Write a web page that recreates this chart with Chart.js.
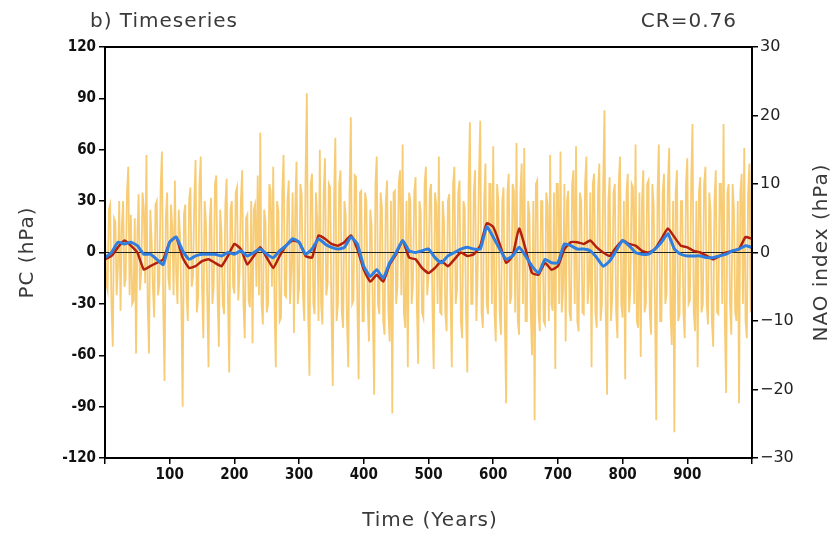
<!DOCTYPE html>
<html>
<head>
<meta charset="utf-8">
<script src="https://cdn.jsdelivr.net/npm/chart.js@4.4.0/dist/chart.umd.min.js"></script>
<style>
  html, body { margin: 0; padding: 0; background: #fff; }
  #wrap { width: 837px; height: 537px; }
</style>
</head>
<body>
<div id="wrap"><canvas id="chart" width="837" height="537"></canvas></div>
<script>
// yearly PC values, read every 2 years (hPa)
const rawStep = 2;
const rawPC = [
  12, -18, -22, 25, 28, -30, -55, 20, 18, -25, -8, 30, -34, 15, 30, -20, -15, 35, 50, -25,
  22, -30, -28, 20, -59, 10, 34, -22, -12, 35, 26, -18, 57, -30, -59, 25, 8, -20, -38, 28,
  30, -25, -18, 38, 59, -30, -75, 20, 35, -15, -22, 28, 14, -25, 42, -12, -30, 25, 10, -30,
  -90, 22, 28, -25, -40, 30, 38, -20, -14, 30, 54, -35, -26, 40, 56, -20, -50, 30, 18, -25,
  -67, 20, 32, -30, -20, 40, 45, -25, -55, 25, 12, -30, -36, 28, 43, -25, -70, 25, 30, -20,
  -24, 35, 38, -28, -12, 30, 48, -30, -50, 20, 22, -28, -32, 30, -53, 25, 28, -20, 45, -25,
  70, -30, -42, 25, 18, -35, -30, 40, 36, -20, 50, -30, -67, 30, 24, -40, -38, 35, 57, -25,
  -26, 30, 42, -30, -10, 35, -47, 25, 53, -30, -20, 40, 34, -25, -40, 45, 93, -35, -72, 40,
  46, -30, -36, 35, 20, -40, 60, -30, -42, 35, 55, -25, -18, 40, 38, -35, -78, 30, 67, -40,
  -30, 40, 48, -35, -44, 30, 22, -40, -67, 35, 79, -30, -28, 45, 44, -30, -74, 35, 36, -40,
  -40, 35, 30, -30, -52, 25, 16, -35, -83, 40, 56, -30, -36, 35, 26, -40, -48, 30, 42, -35,
  -52, 30, -94, 35, 36, -30, -20, 40, 48, -25, 63, -35, -44, 30, -67, 35, 30, -30, -18, 35,
  44, -30, -65, 30, 24, -35, -38, 40, 50, -25, -14, 35, 40, -30, -68, 35, 28, -30, 56, -35,
  -36, 30, 18, -35, -46, 30, 34, -25, -67, 40, 50, -30, -22, 35, 42, -40, -50, 30, 26, -35,
  -70, 40, 76, -30, -30, 35, 48, -40, -12, 45, 77, -35, -44, 30, 52, -30, -36, 40, 40, -30,
  62, -35, -52, 40, 30, -35, -48, 30, 38, -40, -88, 35, 46, -30, -26, 40, 36, -35, 64, -40,
  -48, 35, 52, -30, 61, -40, -40, 30, 22, -35, -60, 30, -98, 40, 42, -35, -46, 30, 30, -40,
  -42, 35, 28, -40, 57, -30, -34, 35, -68, 40, 40, -30, 59, -35, -22, 40, -52, 30, 36, -35,
  -40, 40, 48, -30, 62, -40, -46, 35, 30, -35, -36, 40, 56, -30, -18, 35, -67, 40, 46, -35,
  -44, 35, 52, -40, -30, 40, 83, -35, -83, 30, 44, -40, -26, 35, 40, -35, -50, 40, 56, -30,
  -38, 30, -74, 35, 46, -35, -22, 40, 38, -30, 63, -40, -44, 35, -61, 30, 48, -35, -30, 40,
  42, -35, -48, 40, 28, -30, -98, 35, 63, -40, -40, 35, 46, -30, -24, 40, 61, -35, -54, 30,
  -105, 35, 48, -40, -36, 30, 30, -35, -50, 40, 55, -30, -28, 40, 75, -35, -46, 30, -67, 35,
  44, -35, -30, 40, 50, -30, -42, 35, 24, -40, -55, 30, 48, -35, -36, 40, 40, -30, 75, -40,
  -82, 35, 40, -30, -48, 40, 26, -35, -40, 30, -88, 35, 46, -30, 61, -40, -50, 35, 52, -35,
  65
];

// smoothed curves, read every 10 years
const smoothStep = 10;
const smoothPC = [
  -4, -2, 3, 7, 4, 0, -10, -8, -6, -4,
  6, 9, -3, -9, -8, -5, -4, -6, -8, -2,
  5, 2, -7, -2, 3, -3, -9, -2, 4, 7,
  6, -2, -3, 10, 8, 5, 4, 6, 10, 2,
  -10, -17, -13, -17, -7, -1, 7, -3, -4, -9,
  -12, -9, -5, -8, -4, 0, -2, -1, 4, 17,
  15, 5, -6, -2, 14, 2, -12, -13, -6, -10,
  -8, 2, 6, 6, 5, 7, 3, 0, -2, 3,
  7, 5, 4, 1, 0, 2, 8, 14, 9, 4,
  3, 1, 0, -2, -4, -2, 0, 1, 2, 9,
  8
];
// NAO index (right axis, hPa)
const smoothNAO = [
  -0.75, 0, 1.5, 1.25, 1.5, 1, -0.25, -0.25, -1, -1.75,
  1.5, 2.25, 0.25, -1, -0.5, -0.25, -0.25, -0.25, -0.5, 0,
  -0.25, 0.25, -0.5, 0, 0.5, -0.25, -0.75, 0.25, 1, 2,
  1.5, -0.25, 0.5, 2, 1.25, 0.75, 0.5, 0.75, 2.25, 1.25,
  -2, -3.5, -2.5, -3.75, -1.5, 0, 1.75, 0.25, 0, 0.25,
  0.5, -0.75, -1.5, -0.5, 0, 0.5, 0.75, 0.5, 0.5, 3.75,
  2.25, 0.5, -1, -0.5, 0.75, -0.5, -2, -3, -1, -1.5,
  -1.5, 1.25, 1, 0.5, 0.5, 0.25, -0.75, -2, -1.25, 0.25,
  1.75, 1, 0, -0.25, -0.25, 0.5, 1.5, 2.75, 0.5, -0.25,
  -0.5, -0.5, -0.5, -0.75, -0.75, -0.5, -0.25, 0.25, 0.5, 1,
  0.75
];

const yearMin = 0;
const yearMax = 1000;

const rawPoints = rawPC.map((v, i) => ({ x: i * rawStep, y: v }));
const redPoints = smoothPC.map((v, i) => ({ x: i * smoothStep, y: v }));
const bluePoints = smoothNAO.map((v, i) => ({ x: i * smoothStep, y: v }));

const titleFont = '"DejaVu Sans", sans-serif';
const tickFont = { family: '"Liberation Sans Narrow", "DejaVu Sans Condensed", sans-serif', size: 15, weight: 'bold' };

const textPlugin = {
  id: 'texts',
  afterDraw(chart) {
    const { ctx, chartArea } = chart;
    ctx.save();
    // frame
    ctx.strokeStyle = '#000';
    ctx.lineWidth = 2;
    ctx.strokeRect(chartArea.left, chartArea.top, chartArea.right - chartArea.left, chartArea.bottom - chartArea.top);

    ctx.fillStyle = '#3a3a3a';
    ctx.font = '20px ' + titleFont;
    ctx.letterSpacing = '1px';
    ctx.textBaseline = 'middle';
    ctx.textAlign = 'left';
    ctx.fillText('b) Timeseries', 90, 22);
    ctx.textAlign = 'right';
    ctx.fillText('CR=0.76', 737, 22);

    ctx.textAlign = 'center';
    ctx.fillText('Time (Years)', 430, 521);

    const midY = (chartArea.top + chartArea.bottom) / 2;
    ctx.translate(28, midY);
    ctx.rotate(-Math.PI / 2);
    ctx.fillText('PC (hPa)', 0, 0);
    ctx.rotate(Math.PI / 2);
    ctx.translate(-28, -midY);

    ctx.translate(822, midY);
    ctx.rotate(-Math.PI / 2);
    ctx.fillText('NAO index (hPa)', 0, 0);
    ctx.restore();
  }
};

new Chart(document.getElementById('chart'), {
  type: 'line',
  data: {
    datasets: [
      {
        label: 'PC yearly',
        data: rawPoints,
        borderColor: 'rgba(244, 184, 64, 0.72)',
        borderWidth: 1.8,
        pointRadius: 0,
        yAxisID: 'y',
        order: 4
      },
      {
        label: 'zero',
        data: [{ x: yearMin, y: 0 }, { x: yearMax, y: 0 }],
        borderColor: '#222',
        borderWidth: 1.2,
        pointRadius: 0,
        yAxisID: 'y',
        order: 3
      },
      {
        label: 'PC smoothed',
        data: redPoints,
        borderColor: '#b3200e',
        borderWidth: 2.5,
        pointRadius: 0,
        tension: 0.15,
        yAxisID: 'y',
        order: 2
      },
      {
        label: 'NAO smoothed',
        data: bluePoints,
        borderColor: '#2f7fe0',
        borderWidth: 3,
        pointRadius: 0,
        tension: 0.15,
        yAxisID: 'y1',
        order: 1
      }
    ]
  },
  options: {
    responsive: false,
    animation: false,
    devicePixelRatio: 1,
    layout: { padding: { top: 47, left: 0, right: 0, bottom: 0 } },
    plugins: { legend: { display: false }, tooltip: { enabled: false } },
    scales: {
      x: {
        type: 'linear',
        min: yearMin,
        max: yearMax,
        afterFit: s => { s.height = 79; },
        grid: { drawOnChartArea: false, drawTicks: true, tickLength: 6, color: '#000', lineWidth: 1.5 },
        border: { color: '#000', width: 2 },
        ticks: {
          stepSize: 100,
          maxRotation: 0,
          padding: 2,
          color: '#111',
          font: tickFont,
          callback: v => (v === yearMin || v === yearMax) ? '' : v
        }
      },
      y: {
        position: 'left',
        min: -120,
        max: 120,
        afterFit: s => { s.width = 105; },
        grid: { drawOnChartArea: false, drawTicks: true, tickLength: 6, color: '#000', lineWidth: 1.5 },
        border: { color: '#000', width: 2 },
        ticks: { stepSize: 30, padding: 3, color: '#111', font: tickFont }
      },
      y1: {
        position: 'right',
        min: -30,
        max: 30,
        afterFit: s => { s.width = 85; },
        grid: { drawOnChartArea: false, drawTicks: true, tickLength: 6, color: '#000', lineWidth: 1.5 },
        border: { color: '#000', width: 2 },
        ticks: {
          stepSize: 10,
          padding: 2,
          color: '#222',
          font: { family: titleFont, size: 16 },
          callback: v => String(v).replace('-', '\u2212')
        }
      }
    }
  },
  plugins: [textPlugin]
});
</script>
</body>
</html>
